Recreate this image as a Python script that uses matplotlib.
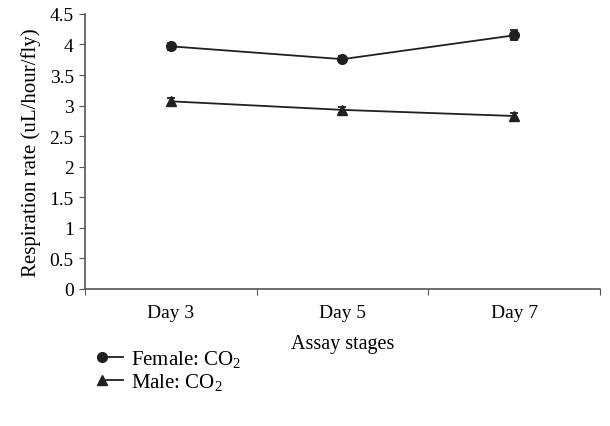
import matplotlib
matplotlib.use("Agg")
import matplotlib.pyplot as plt
from matplotlib.legend_handler import HandlerLine2D
import numpy as np

categories = ["Day 3", "Day 5", "Day 7"]
female_co2 = [3.97, 3.76, 4.15]
female_err = [0.06, 0.05, 0.08]
male_co2 = [3.07, 2.93, 2.83]
male_err = [0.06, 0.05, 0.05]
yticks = [0, 0.5, 1, 1.5, 2, 2.5, 3, 3.5, 4, 4.5]
ytick_labels = ["0", "0.5", "1", "1.5", "2", "2.5", "3", "3.5", "4", "4.5"]

plt.rcParams["font.family"] = ["Liberation Serif", "DejaVu Serif"]
plt.rcParams["mathtext.fontset"] = "custom"
plt.rcParams["mathtext.rm"] = "Liberation Serif"
plt.rcParams["mathtext.it"] = "Liberation Serif:italic"

ink = "#231f20"
axc = "#555555"
fig = plt.figure(figsize=(6.1, 4.27), dpi=100)
ax = fig.add_axes([0.1393, 0.321, 0.8443, 0.644])

x = np.arange(len(categories))
l1 = ax.errorbar(x, female_co2, yerr=female_err, color=ink, marker="o", ms=7,
                 lw=1.3, capsize=3, elinewidth=1.3, capthick=1.3, label="Female: CO$_2$")
l2 = ax.errorbar(x, male_co2, yerr=male_err, color=ink, marker="^", ms=7.5,
                 lw=1.3, capsize=3, elinewidth=1.3, capthick=1.3, label="Male: CO$_2$")

ax.set_xlim(-0.5, len(categories) - 0.5)
ax.set_ylim(0, 4.5)
ax.set_yticks(yticks)
ax.set_yticklabels(ytick_labels)
ax.set_xticks(np.arange(-0.5, len(categories), 1.0))
ax.set_xticklabels([])
ax.set_xticks(x, minor=True)
ax.set_xticklabels(categories, minor=True)
ax.tick_params(axis="x", which="minor", length=0, pad=11, labelsize=14)
ax.tick_params(axis="x", which="major", length=4, direction="out", color=axc)
ax.tick_params(axis="y", length=4, direction="out", color=axc, labelsize=14, pad=4)

for s in ["top", "right"]:
    ax.spines[s].set_visible(False)
for s in ["left", "bottom"]:
    ax.spines[s].set_color(axc)
    ax.spines[s].set_linewidth(1.2)

ax.set_xlabel("Assay stages", fontsize=14.5, labelpad=9)
ax.set_ylabel("Respiration rate (uL/hour/fly)", fontsize=15, labelpad=6)


class LeftMarker(HandlerLine2D):
    def create_artists(self, *args, **kwargs):
        arts = super().create_artists(*args, **kwargs)
        for a in arts:
            a.set_markevery([0])
        return arts


line_handles = [l1[0], l2[0]]
labels = ["Female: CO$_2$", "Male: CO$_2$"]
leg = fig.legend(line_handles, labels, loc="upper left",
                 bbox_to_anchor=(0.168, 1 - 349 / 427), bbox_transform=fig.transFigure,
                 frameon=False, fontsize=15, handlelength=1.0, handletextpad=0.35,
                 labelspacing=0.1, borderaxespad=0, borderpad=0, numpoints=1,
                 handler_map={l1[0]: LeftMarker(), l2[0]: LeftMarker()})

fig.savefig("out.png", dpi=100)
